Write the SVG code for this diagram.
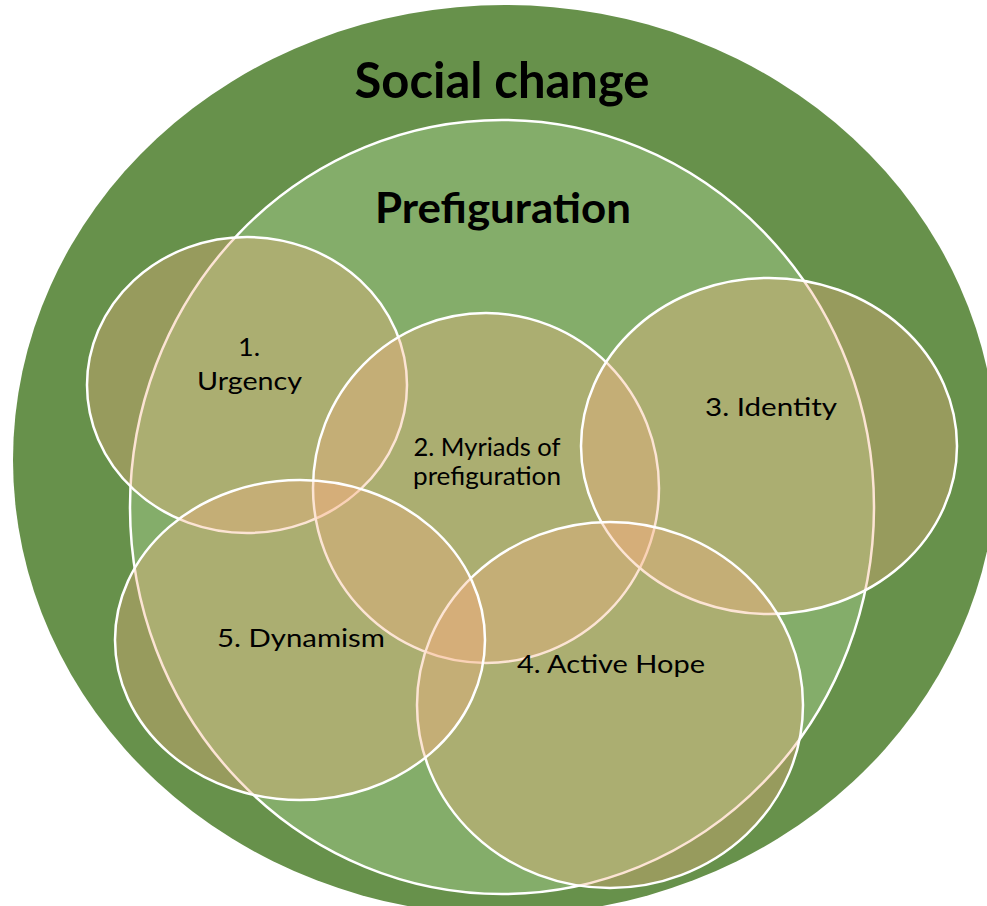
<svg xmlns="http://www.w3.org/2000/svg" width="987" height="906" viewBox="0 0 987 906">
<style>
.bubble{fill:rgba(247,176,129,0.34);stroke:#ffffff;stroke-width:2.5}
.title{font-family:Lato,"Open Sans","Liberation Sans",sans-serif;font-weight:bold;fill:#000;text-anchor:middle}
.lbl{font-family:Lato,"Open Sans","Liberation Sans",sans-serif;font-size:25px;fill:#000;text-anchor:middle}
</style>
<rect x="0" y="0" width="987" height="906" fill="#ffffff"/>
<g id="social-change">
<ellipse cx="505" cy="460" rx="492" ry="455" fill="#67914B"/>
<text class="title" x="502" y="98" font-size="49" textLength="295" lengthAdjust="spacingAndGlyphs">Social change</text>
</g>
<g id="prefiguration">
<ellipse cx="502" cy="507" rx="372" ry="387" fill="#84AD6A" stroke="#ffffff" stroke-width="2.5"/>
<text class="title" x="503" y="223" font-size="42" textLength="256" lengthAdjust="spacingAndGlyphs">Prefiguration</text>
</g>
<g id="urgency">
<ellipse class="bubble" cx="247" cy="385" rx="160" ry="148"/>
</g>
<g id="myriads">
<ellipse class="bubble" cx="486" cy="488" rx="173" ry="175"/>
</g>
<g id="identity">
<ellipse class="bubble" cx="769" cy="446" rx="188" ry="168"/>
</g>
<g id="active-hope">
<ellipse class="bubble" cx="610" cy="705" rx="193" ry="183"/>
</g>
<g id="dynamism">
<ellipse class="bubble" cx="300" cy="640" rx="185" ry="160"/>
</g>
<g id="labels">
<text class="lbl" x="249" y="356" textLength="22" lengthAdjust="spacingAndGlyphs">1.</text>
<text class="lbl" x="249.5" y="390" textLength="105" lengthAdjust="spacingAndGlyphs">Urgency</text>
<text class="lbl" x="487" y="456" textLength="147" lengthAdjust="spacingAndGlyphs">2. Myriads of</text>
<text class="lbl" x="487" y="485" textLength="148" lengthAdjust="spacingAndGlyphs">prefiguration</text>
<text class="lbl" x="771" y="416" textLength="132" lengthAdjust="spacingAndGlyphs">3. Identity</text>
<text class="lbl" x="611" y="673" textLength="188" lengthAdjust="spacingAndGlyphs">4. Active Hope</text>
<text class="lbl" x="301" y="647" textLength="168" lengthAdjust="spacingAndGlyphs">5. Dynamism</text>
</g>
</svg>
